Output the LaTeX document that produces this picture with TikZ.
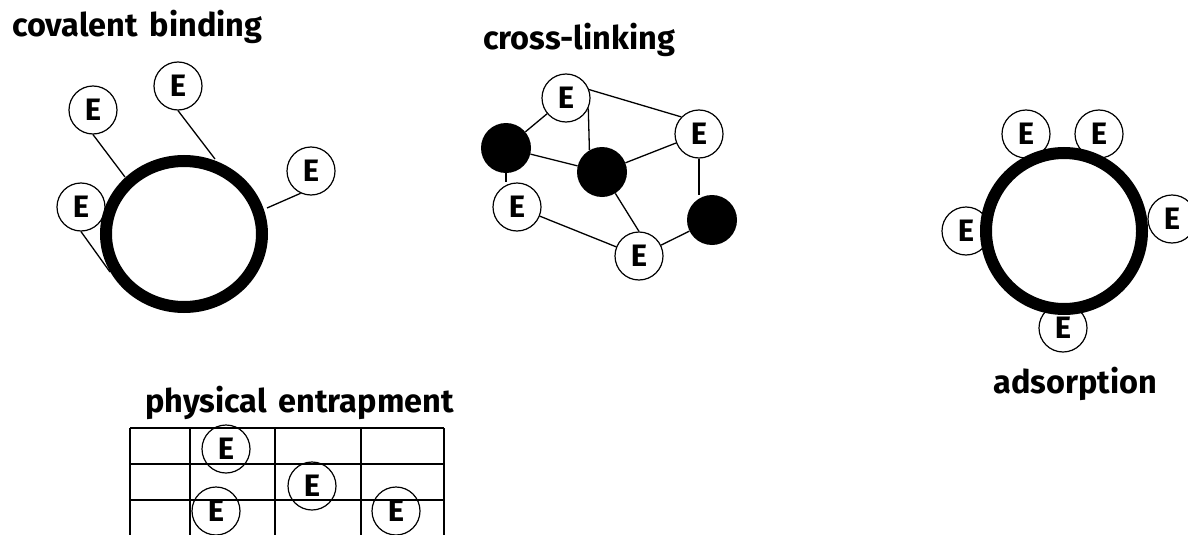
\documentclass[tikz,border=0pt]{standalone}
\usepackage{fontspec}
\setmainfont{Fira Sans}
\begin{document}
\begin{tikzpicture}[x=1pt,y=-1pt,
  lbl/.style={font=\fontsize{32.5}{34}\bfseries\selectfont, inner sep=0pt},
  enz/.style={circle, draw, line width=1.2pt, minimum size=48pt, inner sep=0pt, fill=white, font=\fontsize{31}{32}\bfseries\selectfont},
  enzo/.style={circle, draw, line width=1.2pt, minimum size=48pt, inner sep=0pt, font=\fontsize{31}{32}\bfseries\selectfont},
  blob/.style={circle, fill=black, minimum size=50pt, inner sep=0pt},
  link/.style={line width=1.3pt},
  ring/.style={line width=12pt}]
\useasboundingbox (0,0) rectangle (1188,535);
% ---------- covalent binding ----------
\node[lbl, anchor=base west] (t1) at (12,37) {covalent\hspace{4pt} binding};
\node[enz] (ca) at (93,110) {E};
\node[enz] (cb) at (178,86) {E};
\node[enz] (cc) at (311,171) {E};
\node[enz] (cd) at (81,207) {E};
\coordinate (ra) at (125,177);
\coordinate (rb) at (215,159);
\coordinate (rc) at (267,208);
\coordinate (rd) at (110,272);
\draw[link] (ca.south) -- (ra);
\draw[link] (cb.south) -- (rb);
\draw[link] (cc.245) -- (rc);
\draw[link] (cd.south) -- (rd);
\draw[ring] (184,234) ellipse [x radius=78pt, y radius=73pt];
% ---------- cross-linking ----------
\node[lbl, anchor=base west] (t2) at (483,50) {cross-linking};
\node[enz] (xt) at (566,98) {E};
\node[enz] (xr) at (699,134) {E};
\node[enz] (xl) at (517,207) {E};
\node[enz] (xb) at (639,256) {E};
\node[blob] (b1) at (506,148) {};
\node[blob] (b2) at (602,172) {};
\node[blob] (b3) at (712,220) {};
\draw[link] (xt) -- (b1);
\draw[link] (xt.20) -- (xr.136);
\draw[link] (xt.-25) -- (b2.120);
\draw[link] (b1) -- (b2);
\draw[link] (b2) -- (xr);
\draw[link] (b1.south) -- (b1.south |- xl.north);
\draw[link] (xl) -- (xb);
\draw[link] (b2) -- (xb.north);
\draw[link] (xr.south) -- (xr.south |- b3.north);
\draw[link] (xb) -- (b3);
% ---------- adsorption ----------
\node[enz] (aa) at (1026,134) {E};
\node[enz] (ab) at (1099,134) {E};
\node[enz] (ac) at (966,231) {E};
\node[enz] (ad) at (1172,219) {E};
\node[enz] (ae) at (1063,328) {E};
\draw[ring] (1064,231) circle [radius=78pt];
\node[lbl, anchor=base west] (t3) at (993,393) {adsorption};
% ---------- physical entrapment ----------
\node[lbl, anchor=base west] (t4) at (145,412) {physical\hspace{4pt} entrapment};
\draw[link] (130,428) -- (444,428);
\draw[link] (130,464) -- (444,464);
\draw[link] (130,500) -- (444,500);
\draw[link] (130,428) -- (130,535);
\draw[link] (190,428) -- (190,535);
\draw[link] (275,428) -- (275,535);
\draw[link] (361,428) -- (361,535);
\draw[link] (444,428) -- (444,535);
\node[enzo] (pa) at (226,449) {E};
\node[enzo] (pb) at (312,486) {E};
\node[enzo] (pc) at (216,511) {E};
\node[enzo] (pd) at (396,511) {E};
\end{tikzpicture}
\end{document}
